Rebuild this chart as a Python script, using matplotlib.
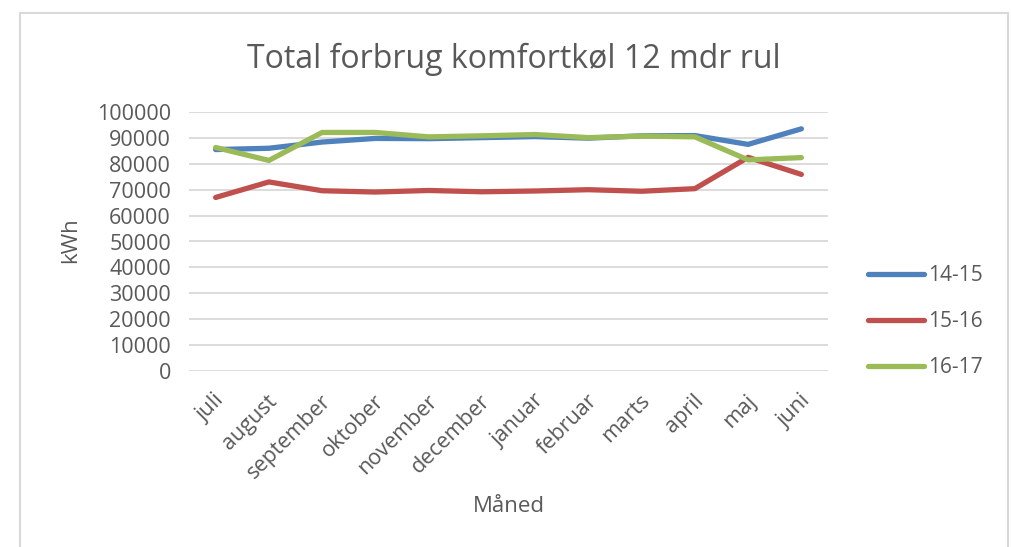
import matplotlib
matplotlib.use("Agg")
import matplotlib.pyplot as plt
from matplotlib.patches import Rectangle
from matplotlib.transforms import ScaledTranslation

months = ["juli", "august", "september", "oktober", "november", "december",
          "januar", "februar", "marts", "april", "maj", "juni"]
s1415 = [85500, 86000, 88400, 89800, 89700, 90100, 90500, 89900, 90800, 90900, 87500, 93500]
s1516 = [67000, 73000, 69600, 69100, 69700, 69200, 69500, 70000, 69400, 70400, 82500, 75900]
s1617 = [86300, 81300, 92100, 92100, 90400, 90800, 91300, 90100, 90700, 90400, 81500, 82400]
series = [("14-15", s1415, "#4F81BD"), ("15-16", s1516, "#C0504D"), ("16-17", s1617, "#9BBB59")]
yticks = list(range(0, 100001, 10000))

plt.rcParams['font.family'] = ['Open Sans', 'DejaVu Sans']
W, H = 1011, 547
fig = plt.figure(figsize=(W/100, H/100), dpi=100)
fig.patch.set_facecolor("white")

fig.patches.append(Rectangle((20/W, -0.05), (1008-20)/W, 1 - 13/H + 0.05,
                             transform=fig.transFigure, fill=False,
                             edgecolor="#D9D9D9", linewidth=1.5, zorder=0))

ax = fig.add_axes([189/W, 1 - 371/H, (828-189)/W, (371-112)/H])
x = list(range(len(months)))
for name, vals, col in series:
    ax.plot(x, vals, color=col, linewidth=3.8, label=name, solid_capstyle="round")

ax.set_xlim(-0.5, len(months) - 0.5)
ax.set_ylim(0, 100000)
ax.set_yticks(yticks)
ax.set_yticklabels([str(v) for v in yticks])
ax.yaxis.grid(True, color="#D9D9D9", linewidth=1.3)
ax.set_axisbelow(True)
for sp in ax.spines.values():
    sp.set_visible(False)
ax.tick_params(axis="both", length=0, labelcolor="#595959")
ax.tick_params(axis="y", pad=13, labelsize=15.5)
ax.set_xticks(x)
ax.set_xticklabels(months, rotation=45, ha="right", va="top", rotation_mode="anchor",
                   fontsize=15.5)
ax.tick_params(axis="x", pad=14)
off = ScaledTranslation(-2/100, 0, fig.dpi_scale_trans)
for lab in ax.get_xticklabels():
    lab.set_transform(lab.get_transform() + off)

ax.set_ylabel("kWh", fontsize=16, color="#595959")
ax.yaxis.set_label_coords(81/W, 1 - 240/H, transform=fig.transFigure)
fig.text(509/W, 1 - 506/H, "Måned", fontsize=16, color="#595959", ha="center", va="center")
fig.text(514/W, 1 - 59/H, "Total forbrug komfortkøl 12 mdr rul", fontsize=23,
         color="#595959", ha="center", va="center")

leg = fig.legend(loc="upper left", bbox_to_anchor=(868/W, 1 - 265/H), frameon=False,
                 fontsize=15, labelcolor="#595959", handlelength=2.7, handletextpad=0.2,
                 labelspacing=1.2, borderpad=0, borderaxespad=0)

fig.savefig("out.png", dpi=100, facecolor="white")
